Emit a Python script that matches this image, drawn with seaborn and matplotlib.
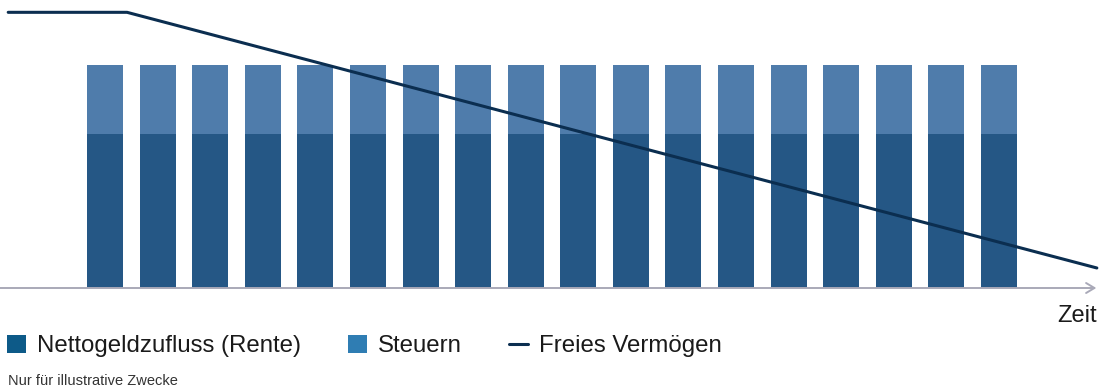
import matplotlib
matplotlib.use("Agg")
import matplotlib.pyplot as plt
from matplotlib.patches import Patch
from matplotlib.lines import Line2D
import numpy as np
import pandas as pd
import seaborn as sns

# Payout periods (one bar per period)
periods = list(range(1, 19))
net_income = [100] * 18          # Nettogeldzufluss (Rente)
taxes = [45] * 18                # Steuern

# Free assets: flat at first, then drawn down steadily
asset_time = [-0.84, 1.42, 19.86]
asset_value = [179, 179, 13]

labels = ["Nettogeldzufluss (Rente)", "Steuern", "Freies Vermögen"]
axis_label = "Zeit"
footnote = "Nur für illustrative Zwecke"

bar_dark = "#255785"
bar_light = "#4f7cab"
legend_dark = "#0d5a88"
legend_light = "#2f7db3"
line_color = "#0b2e50"
axis_color = "#a9a9b8"

sns.set_theme(style="white")
plt.rcParams["font.family"] = ["Liberation Sans", "DejaVu Sans"]

fig = plt.figure(figsize=(11.07, 3.90), dpi=100)
ax = fig.add_axes([0, 102 / 390, 1100 / 1107, 288 / 390])

df = pd.DataFrame({
    "period": periods,
    "total": np.array(net_income) + np.array(taxes),
    "net": net_income,
})

sns.barplot(data=df, x="period", y="total", native_scale=True, width=0.684,
            color=bar_light, saturation=1, ax=ax, linewidth=0)
sns.barplot(data=df, x="period", y="net", native_scale=True, width=0.684,
            color=bar_dark, saturation=1, ax=ax, linewidth=0)
sns.lineplot(x=asset_time, y=asset_value, color=line_color, linewidth=2.2,
             ax=ax, clip_on=False)

x0, x1 = -0.996, 19.92
ax.set_xlim(x0, x1)
ax.set_ylim(0, 187)
ax.set_axis_off()

# Time axis with open arrow head
ax.annotate("", xy=(19.85, 0), xytext=(x0, 0),
            arrowprops=dict(arrowstyle="->,head_length=0.5,head_width=0.3",
                            color=axis_color, linewidth=1.4, shrinkA=0, shrinkB=0),
            annotation_clip=False)

fig.text(1097 / 1107, 1 - 322 / 390, axis_label, ha="right", va="baseline",
         fontsize=17, color="#1a1a1a")

handles = [
    Patch(facecolor=legend_dark, edgecolor="none"),
    Patch(facecolor=legend_light, edgecolor="none"),
    Line2D([0], [0], color=line_color, linewidth=2.2),
]
fig.legend(handles, labels, loc="center left", bbox_to_anchor=(0.0, 1 - 346 / 390),
           ncol=3, frameon=False, fontsize=17.3, handlelength=0.79, handleheight=0.79,
           handletextpad=0.46, columnspacing=1.95, borderaxespad=0, borderpad=0.3,
           labelcolor="#1a1a1a")

fig.text(8 / 1107, 1 - 385 / 390, footnote, ha="left", va="baseline",
         fontsize=10.5, color="#333333")

fig.savefig("out.png", dpi=100)
